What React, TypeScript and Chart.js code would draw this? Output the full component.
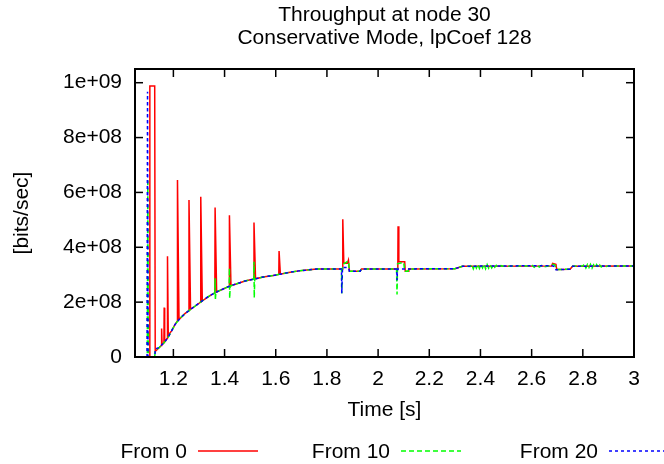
import React, { useEffect, useRef } from 'react';
import { Chart, registerables } from 'chart.js';

Chart.register(...registerables);

// ---------- text ----------
const TITLE_LINES = ['Throughput at node 30', 'Conservative Mode, lpCoef 128'];
const X_TITLE = 'Time [s]';
const Y_TITLE = '[bits/sec]';
const SERIES_NAMES = ['From 0', 'From 10', 'From 20'];
const SERIES_COLORS = ['#ff0000', '#00ff00', '#0000ff'];

// ---------- axes ----------
const X_MIN = 1.05;
const X_MAX = 3;
const Y_MIN = 0;
const Y_MAX = 1.05e9;
const X_TICKS = [1.2, 1.4, 1.6, 1.8, 2, 2.2, 2.4, 2.6, 2.8, 3];
const X_TICK_LABELS = ['1.2', '1.4', '1.6', '1.8', '2', '2.2', '2.4', '2.6', '2.8', '3'];
const Y_TICKS = [0, 2e8, 4e8, 6e8, 8e8, 1e9];
const Y_TICK_LABELS = ['0', '2e+08', '4e+08', '6e+08', '8e+08', '1e+09'];
const VALUE_UNIT = 1e8; // series values below are in units of 1e8 bits/sec

// ---------- series: From 0 ----------
const redT = [
  1.05, 1.107, 1.108, 1.127, 1.129, 1.14, 1.153, 1.154, 1.156, 1.163, 1.164, 1.166,
  1.176, 1.177, 1.18, 1.193, 1.206, 1.215, 1.216, 1.222, 1.245, 1.26, 1.261, 1.267,
  1.284, 1.306, 1.307, 1.313, 1.343, 1.362, 1.363, 1.369, 1.402, 1.418, 1.419, 1.425,
  1.46, 1.48, 1.514, 1.515, 1.521, 1.551, 1.59, 1.612, 1.613, 1.618, 1.656, 1.69,
  1.721, 1.76, 1.861, 1.862, 1.866, 1.88, 1.884, 1.888, 1.93, 1.935, 2.077, 2.078,
  2.081, 2.104, 2.106, 2.117, 2.12, 2.3, 2.33, 2.678, 2.682, 2.695, 2.698, 2.75,
  2.76, 3.0,
];
const redV = [
  0, 0, 9.88, 9.88, 0.2, 0.3, 0.42, 1.04, 0.45, 0.52, 1.8, 0.55,
  0.68, 3.67, 0.8, 0.95, 1.18, 1.3, 6.45, 1.37, 1.58, 1.69, 5.72, 1.74,
  1.85, 2.0, 5.84, 2.05, 2.24, 2.34, 5.45, 2.37, 2.51, 2.58, 5.17, 2.6,
  2.71, 2.77, 2.84, 4.9, 2.85, 2.92, 2.97, 3.01, 3.86, 3.02, 3.09, 3.14,
  3.17, 3.21, 3.21, 5.02, 3.42, 3.42, 3.53, 3.13, 3.13, 3.21, 3.21, 4.77,
  3.47, 3.47, 3.13, 3.13, 3.21, 3.22, 3.31, 3.32, 3.41, 3.38, 3.19, 3.2,
  3.31, 3.32,
];

// ---------- series: From 10 ----------
const greenT = [
  1.05, 1.098, 1.1, 1.102, 1.127, 1.129, 1.143, 1.154, 1.167, 1.18, 1.193, 1.206,
  1.225, 1.245, 1.265, 1.284, 1.304, 1.323, 1.343, 1.362, 1.363, 1.364, 1.366, 1.382,
  1.402, 1.418, 1.419, 1.42, 1.422, 1.441, 1.46, 1.48, 1.5, 1.514, 1.515, 1.516,
  1.518, 1.525, 1.551, 1.59, 1.623, 1.656, 1.69, 1.721, 1.76, 1.857, 1.858, 1.86,
  1.866, 1.884, 1.888, 1.93, 1.935, 2.072, 2.074, 2.076, 2.1, 2.104, 2.117, 2.12,
  2.3, 2.33, 2.36, 2.366, 2.372, 2.378, 2.384, 2.39, 2.396, 2.402, 2.408, 2.414,
  2.42, 2.426, 2.432, 2.438, 2.444, 2.45, 2.456, 2.462, 2.47, 2.48, 2.49, 2.59,
  2.6, 2.61, 2.62, 2.63, 2.64, 2.65, 2.67, 2.68, 2.69, 2.698, 2.75, 2.76,
  2.8, 2.806, 2.812, 2.818, 2.824, 2.83, 2.836, 2.842, 2.848, 2.854, 2.86, 2.866,
  2.872, 2.88, 2.89, 2.9, 3.0,
];
const greenV = [
  0, 0, 6.5, 0, 0, 0.25, 0.33, 0.43, 0.56, 0.73, 0.95, 1.18,
  1.4, 1.58, 1.72, 1.85, 1.99, 2.12, 2.24, 2.34, 2.87, 2.07, 2.36, 2.43,
  2.51, 2.58, 3.24, 2.14, 2.59, 2.65, 2.71, 2.77, 2.81, 2.84, 3.47, 2.16,
  2.85, 2.86, 2.92, 2.97, 3.03, 3.09, 3.14, 3.17, 3.21, 3.21, 2.32, 3.21,
  3.4, 3.5, 3.13, 3.13, 3.21, 3.21, 2.28, 3.4, 3.45, 3.13, 3.13, 3.21,
  3.22, 3.31, 3.3, 3.38, 3.22, 3.37, 3.24, 3.38, 3.23, 3.36, 3.25, 3.39,
  3.22, 3.37, 3.24, 3.36, 3.25, 3.35, 3.27, 3.34, 3.28, 3.33, 3.31, 3.32,
  3.36, 3.27, 3.35, 3.28, 3.34, 3.29, 3.33, 3.38, 3.36, 3.19, 3.2, 3.31,
  3.32, 3.38, 3.25, 3.37, 3.26, 3.38, 3.24, 3.36, 3.26, 3.37, 3.27, 3.35,
  3.28, 3.34, 3.3, 3.32, 3.32,
];

// ---------- series: From 20 ----------
const blueT = [
  1.05, 1.097, 1.099, 1.101, 1.127, 1.13, 1.143, 1.154, 1.167, 1.18, 1.193, 1.206,
  1.225, 1.245, 1.265, 1.284, 1.304, 1.323, 1.343, 1.363, 1.382, 1.402, 1.421, 1.441,
  1.46, 1.48, 1.5, 1.525, 1.551, 1.59, 1.623, 1.656, 1.69, 1.721, 1.76, 1.857,
  1.858, 1.861, 1.884, 1.888, 1.93, 1.935, 2.073, 2.074, 2.076, 2.3, 2.33, 2.68,
  2.69, 2.695, 2.75, 2.76, 3.0,
];
const blueV = [
  0, 0, 9.67, 0, 0, 0.3, 0.34, 0.44, 0.56, 0.73, 0.95, 1.18,
  1.4, 1.58, 1.72, 1.85, 1.99, 2.12, 2.24, 2.34, 2.43, 2.51, 2.59, 2.65,
  2.71, 2.77, 2.81, 2.86, 2.92, 2.97, 3.03, 3.09, 3.14, 3.17, 3.21, 3.21,
  2.32, 3.26, 3.26, 3.13, 3.13, 3.21, 3.21, 2.8, 3.21, 3.22, 3.31, 3.33,
  3.3, 3.18, 3.2, 3.31, 3.32,
];

const DASHES: number[][] = [[], [5, 3], [3, 3]];

const FONT = '20px "Liberation Sans", Arial, Helvetica, sans-serif';
const TEXT_SX = 1.05;

function drawText(
  ctx: CanvasRenderingContext2D,
  s: string,
  x: number,
  y: number,
  align: CanvasTextAlign,
  baseline: CanvasTextBaseline = 'alphabetic',
  rot = 0,
) {
  ctx.save();
  ctx.translate(x, y);
  if (rot) ctx.rotate(rot);
  ctx.scale(TEXT_SX, 1);
  ctx.font = FONT;
  ctx.fillStyle = '#000';
  ctx.textAlign = align;
  ctx.textBaseline = baseline;
  ctx.fillText(s, 0, 0);
  ctx.restore();
}

function seg(ctx: CanvasRenderingContext2D, x1: number, y1: number, x2: number, y2: number) {
  ctx.beginPath();
  ctx.moveTo(x1, y1);
  ctx.lineTo(x2, y2);
  ctx.stroke();
}

const gnuplotFrame = {
  id: 'gnuplotFrame',
  afterDraw(chart: any) {
    const ctx: CanvasRenderingContext2D = chart.ctx;
    const { left, right, top, bottom } = chart.chartArea;
    const xs = chart.scales.x;
    const ys = chart.scales.y;
    const midX = (left + right) / 2;
    ctx.save();
    // border
    ctx.strokeStyle = '#000';
    ctx.lineWidth = 2;
    ctx.setLineDash([]);
    ctx.strokeRect(left, top, right - left, bottom - top);
    // ticks (inward, mirrored)
    ctx.lineWidth = 1.5;
    X_TICKS.forEach((v, i) => {
      const px = xs.getPixelForValue(v);
      seg(ctx, px, bottom, px, bottom - 8);
      seg(ctx, px, top, px, top + 8);
      drawText(ctx, X_TICK_LABELS[i], px, bottom + 28, 'center');
    });
    Y_TICKS.forEach((v, i) => {
      const py = ys.getPixelForValue(v);
      seg(ctx, left, py, left + 8, py);
      seg(ctx, right, py, right - 8, py);
      drawText(ctx, Y_TICK_LABELS[i], left - 13, py, 'right', 'middle');
    });
    // titles
    drawText(ctx, TITLE_LINES[0], midX, 21, 'center');
    drawText(ctx, TITLE_LINES[1], midX, 44, 'center');
    drawText(ctx, X_TITLE, midX, 416, 'center');
    drawText(ctx, Y_TITLE, 28, (top + bottom) / 2, 'center', 'alphabetic', -Math.PI / 2);
    // legend
    const rightEdges = [187, 390, 598];
    SERIES_NAMES.forEach((name, i) => {
      drawText(ctx, name, rightEdges[i], 458, 'right');
      ctx.strokeStyle = SERIES_COLORS[i];
      ctx.lineWidth = 1.5;
      ctx.setLineDash(DASHES[i]);
      seg(ctx, rightEdges[i] + 11, 451, rightEdges[i] + 71, 451);
    });
    ctx.restore();
  },
};

export default function App() {
  const ref = useRef<HTMLCanvasElement | null>(null);

  useEffect(() => {
    if (!ref.current) return;
    const toPts = (ts: number[], vs: number[]) => ts.map((t, i) => ({ x: t, y: vs[i] * VALUE_UNIT }));
    const all = [
      [redT, redV],
      [greenT, greenV],
      [blueT, blueV],
    ];
    const chart = new Chart(ref.current, {
      type: 'line',
      data: {
        datasets: all.map(([ts, vs], i) => ({
          label: SERIES_NAMES[i],
          data: toPts(ts, vs),
          borderColor: SERIES_COLORS[i],
          backgroundColor: SERIES_COLORS[i],
          borderWidth: 1.5,
          borderDash: DASHES[i],
          pointRadius: 0,
          tension: 0,
          fill: false,
          order: 3 - i,
        })),
      },
      options: {
        animation: false,
        responsive: false,
        devicePixelRatio: 1,
        events: [],
        layout: { padding: { left: 135, right: 30, top: 69, bottom: 107 } },
        plugins: {
          legend: { display: false },
          title: { display: false },
          tooltip: { enabled: false },
        },
        scales: {
          x: { type: 'linear', min: X_MIN, max: X_MAX, display: false },
          y: { type: 'linear', min: Y_MIN, max: Y_MAX, display: false },
        },
      },
      plugins: [gnuplotFrame],
    } as any);
    return () => chart.destroy();
  }, []);

  return (
    <div style={{ position: 'absolute', left: 0, top: 0, width: 664, height: 464, background: '#fff' }}>
      <canvas ref={ref} width={664} height={464} style={{ width: 664, height: 464, display: 'block' }} />
    </div>
  );
}
